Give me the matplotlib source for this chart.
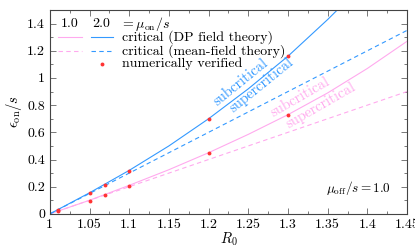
import matplotlib
matplotlib.use('agg')
import matplotlib.pyplot as plt
from matplotlib.ticker import MultipleLocator

plt.rcParams['font.family'] = 'cmr10'
plt.rcParams['mathtext.fontset'] = 'cm'
plt.rcParams['axes.formatter.use_mathtext'] = True
plt.rcParams['font.size'] = 10

BLUE = '#3399ff'
PINK = '#ffaaee'
RED = '#ff3333'

# curve samples (R0, eps_on/s)
r0 = [1.0, 1.05, 1.1, 1.15, 1.2, 1.25, 1.3, 1.35, 1.4, 1.45]
dp_mu2 = [0.0, 0.155, 0.32, 0.50, 0.70, 0.92, 1.16, 1.43, 1.72, 2.03]
dp_mu1 = [0.0, 0.10, 0.21, 0.325, 0.45, 0.585, 0.73, 0.89, 1.07, 1.27]
mf_mu2 = [0.0, 0.15, 0.30, 0.45, 0.60, 0.75, 0.90, 1.05, 1.20, 1.35]
mf_mu1 = [0.0, 0.10, 0.20, 0.30, 0.40, 0.50, 0.60, 0.70, 0.80, 0.90]

# numerically verified points
r0_num = [1.01, 1.05, 1.07, 1.1, 1.2, 1.3]
num_mu2 = [0.03, 0.152, 0.216, 0.318, 0.70, 1.16]
num_mu1 = [0.02, 0.097, 0.142, 0.207, 0.448, 0.728]

fig = plt.figure(figsize=(4.15, 2.49), dpi=100)
ax = fig.add_axes([0.120, 0.141, 0.861, 0.819])

ax.plot(r0, dp_mu1, color=PINK, lw=0.8)
ax.plot(r0, mf_mu1, color=PINK, lw=0.8, ls=(0, (4, 3)))
ax.plot(r0, dp_mu2, color=BLUE, lw=0.8)
ax.plot(r0, mf_mu2, color=BLUE, lw=0.8, ls=(0, (4, 3)))
ax.plot(r0_num, num_mu2, 'o', color=RED, ms=2.8, mew=0)
ax.plot(r0_num, num_mu1, 'o', color=RED, ms=2.8, mew=0)

ax.text(1.2405, 0.967, 'subcritical', color=BLUE, rotation=39, ha='center', va='center', fontsize=10.5)
ax.text(1.267, 0.945, 'supercritical', color=BLUE, rotation=39, ha='center', va='center', fontsize=10.5)
ax.text(1.315, 0.856, 'subcritical', color=PINK, rotation=30, ha='center', va='center', fontsize=10.5)
ax.text(1.341, 0.797, 'supercritical', color=PINK, rotation=30, ha='center', va='center', fontsize=10.5)

ax.text(1.43, 0.19, r'$\mu_{\rm off}/s = 1.0$', ha='right', va='center', fontsize=9.5)

# hand-made legend
tr = ax.transAxes
def ax_x(px):
    return (px - 50) / 357
def ax_y(py):
    return (214 - py) / 204

ax.text(ax_x(70), ax_y(24), '1.0', ha='center', va='center', transform=tr)
ax.text(ax_x(101), ax_y(24), '2.0', ha='center', va='center', transform=tr)
ax.text(ax_x(120), ax_y(24), r'$= \mu_{\rm on}/s$', ha='left', va='center', transform=tr)
ax.plot([ax_x(58), ax_x(82)], [ax_y(37), ax_y(37)], color=PINK, lw=0.8, transform=tr)
ax.plot([ax_x(91), ax_x(113)], [ax_y(37), ax_y(37)], color=BLUE, lw=0.8, transform=tr)
ax.plot([ax_x(58), ax_x(82)], [ax_y(51), ax_y(51)], color=PINK, lw=0.8, ls=(0, (4, 3)), transform=tr)
ax.plot([ax_x(91), ax_x(113)], [ax_y(51), ax_y(51)], color=BLUE, lw=0.8, ls=(0, (4, 3)), transform=tr)
ax.plot([ax_x(102)], [ax_y(64)], 'o', color=RED, ms=2.8, mew=0, transform=tr)
ax.text(ax_x(122), ax_y(37), 'critical (DP field theory)', ha='left', va='center', transform=tr)
ax.text(ax_x(122), ax_y(51), 'critical (mean-field theory)', ha='left', va='center', transform=tr)
ax.text(ax_x(122), ax_y(64), 'numerically verified', ha='left', va='center', transform=tr)

ax.set_xlim(1.0, 1.45)
ax.set_ylim(0, 1.5)
ax.xaxis.set_minor_locator(MultipleLocator(0.025))
ax.yaxis.set_minor_locator(MultipleLocator(0.1))
ax.set_xticks([1, 1.05, 1.1, 1.15, 1.2, 1.25, 1.3, 1.35, 1.4, 1.45])
ax.set_xticklabels(['1', '1.05', '1.1', '1.15', '1.2', '1.25', '1.3', '1.35', '1.4', '1.45'])
ax.set_yticks([0, 0.2, 0.4, 0.6, 0.8, 1.0, 1.2, 1.4])
ax.set_yticklabels(['0', '0.2', '0.4', '0.6', '0.8', '1', '1.2', '1.4'])
ax.tick_params(which='both', direction='in', top=True, right=True, width=0.5, colors='#444444', labelcolor='black')
ax.tick_params(which='major', length=4)
ax.tick_params(which='minor', length=2)
for s in ax.spines.values():
    s.set_linewidth(0.8)
    s.set_color('#444444')

ax.set_xlabel(r'$R_0$', fontsize=10.5, labelpad=0)
ax.set_ylabel(r'$\epsilon_{\rm on}/s$', fontsize=10.5, labelpad=2)

fig.savefig('out.png', dpi=100)
